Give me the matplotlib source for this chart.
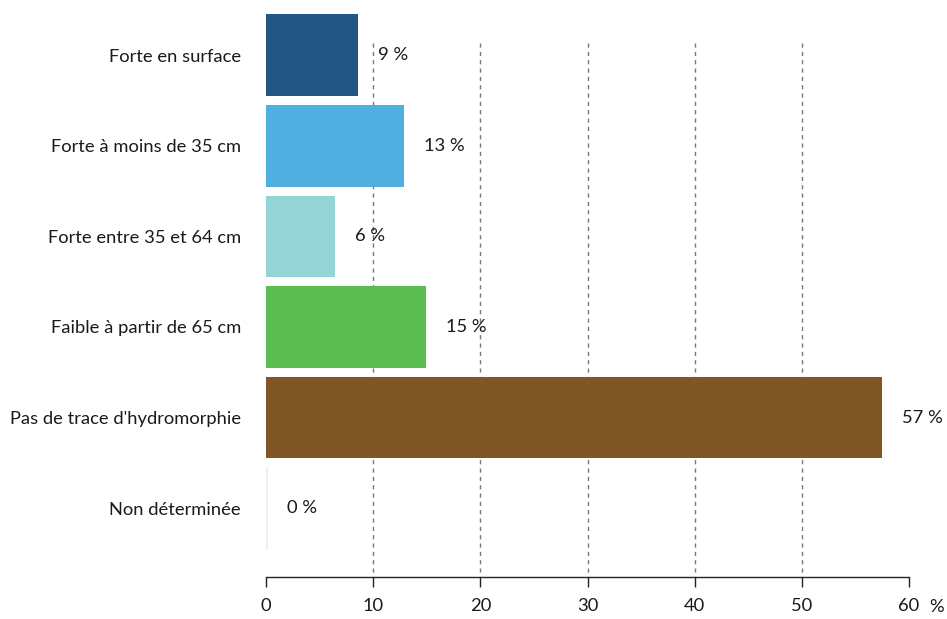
import matplotlib
matplotlib.use("Agg")
import matplotlib.pyplot as plt
from matplotlib.transforms import blended_transform_factory

categories = ["Forte en surface", "Forte à moins de 35 cm", "Forte entre 35 et 64 cm",
              "Faible à partir de 65 cm", "Pas de trace d'hydromorphie", "Non déterminée"]
values = [8.55, 12.85, 6.45, 14.9, 57.45, 0.05]
labels = ["9 %", "13 %", "6 %", "15 %", "57 %", "0 %"]
colors = ["#235584", "#50aee0", "#94d4d4", "#5bbd50", "#7f5625", "#ffffff"]
xticks = [0, 10, 20, 30, 40, 50, 60]

plt.rcParams['font.family'] = ['Lato', 'DejaVu Sans']
FS = 13.2

fig = plt.figure(figsize=(9.47, 6.19), dpi=100)
ax = fig.add_axes([266/947, 42/619, 643/947, 563/619])

ypos = list(range(len(categories)))
ax.barh(ypos, values, height=0.9, color=colors, edgecolor=["none"]*5 + ["#efefef"], linewidth=0.8, zorder=3)

ax.set_xlim(0, 60)
ax.set_ylim(5.76, -0.455)

ax.vlines(xticks[1:-1], -0.138, 5.76, colors="#777777", linestyles=(0, (3, 3)), linewidth=1, zorder=2)

for y, v, lab in zip(ypos, values, labels):
    ax.annotate(lab, (v, y), xytext=(14.5, 0), textcoords="offset points",
                va="center", ha="left", fontsize=FS, color="#1a1a1a", zorder=4)

ax.set_yticks(ypos)
ax.set_yticklabels(categories, fontsize=FS, color="#1a1a1a")
ax.tick_params(axis="y", length=0, pad=18)
ax.set_xticks(xticks)
ax.set_xticklabels([str(t) for t in xticks], fontsize=FS, color="#1a1a1a")
ax.tick_params(axis="x", direction="out", length=7.2, width=1, color="#222222", pad=8)

for s in ["top", "right", "left"]:
    ax.spines[s].set_visible(False)
ax.spines["bottom"].set_color("#222222")
ax.spines["bottom"].set_linewidth(1)

trans = blended_transform_factory(ax.transData, ax.transAxes)
ax.annotate("%", (60, -0.0533), xycoords=trans, xytext=(14.5, 0), textcoords="offset points",
            ha="left", va="center", fontsize=FS, color="#1a1a1a", annotation_clip=False)

fig.savefig("out.png", dpi=100)
